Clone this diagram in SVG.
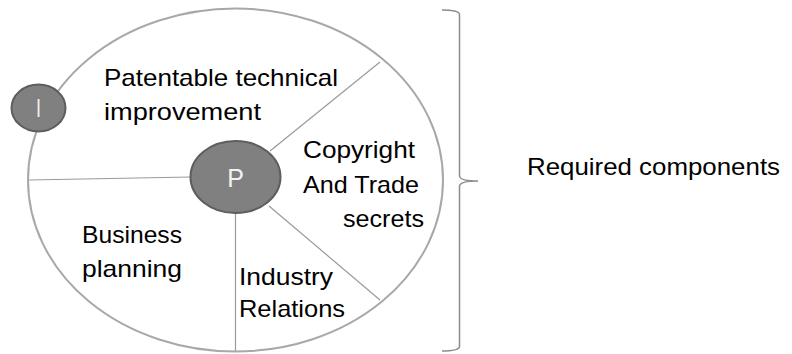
<svg xmlns="http://www.w3.org/2000/svg" width="792" height="354" viewBox="0 0 792 354">
<style>
.t{font-family:"Liberation Sans",Arial,sans-serif;font-size:24px;fill:#000}
.w{font-family:"Liberation Sans",Arial,sans-serif;font-size:25px;fill:#f2f2f2;text-anchor:middle}
.ln{stroke:#9a9a9a;stroke-width:1.2;fill:none}
.dot{fill:#808080;stroke:#5e5e5e;stroke-width:2}
</style>
<rect width="792" height="354" fill="#fff"/>
<g id="main">
<ellipse cx="235.5" cy="180" rx="207.5" ry="171.5" fill="#fff" stroke="#a8a8a8" stroke-width="2"/>
</g>
<g id="connectors">
<line class="ln" x1="270" y1="151" x2="380" y2="62"/>
<line class="ln" x1="29" y1="180" x2="191" y2="177"/>
<line class="ln" x1="269" y1="206" x2="380" y2="300"/>
<line class="ln" x1="235.5" y1="213" x2="235.5" y2="351"/>
</g>
<g id="nodeI">
<ellipse class="dot" cx="38.5" cy="108" rx="27" ry="23.5"/>
<text class="w" x="38.5" y="117" textLength="5" lengthAdjust="spacingAndGlyphs">I</text>
</g>
<g id="nodeP">
<ellipse class="dot" cx="235.5" cy="177" rx="45" ry="36"/>
<text class="w" x="235.5" y="187">P</text>
</g>
<g id="patent">
<text class="t" x="104" y="86" textLength="234" lengthAdjust="spacingAndGlyphs">Patentable technical</text>
<text class="t" x="104" y="120" textLength="157" lengthAdjust="spacingAndGlyphs">improvement</text>
</g>
<g id="copyright">
<text class="t" x="303" y="158" textLength="112" lengthAdjust="spacingAndGlyphs">Copyright</text>
<text class="t" x="303" y="193" textLength="116" lengthAdjust="spacingAndGlyphs">And Trade</text>
<text class="t" x="343" y="227" textLength="81" lengthAdjust="spacingAndGlyphs">secrets</text>
</g>
<g id="business">
<text class="t" x="82" y="243" textLength="100" lengthAdjust="spacingAndGlyphs">Business</text>
<text class="t" x="82" y="277" textLength="100" lengthAdjust="spacingAndGlyphs">planning</text>
</g>
<g id="industry">
<text class="t" x="239" y="285" textLength="94" lengthAdjust="spacingAndGlyphs">Industry</text>
<text class="t" x="239" y="317" textLength="106" lengthAdjust="spacingAndGlyphs">Relations</text>
</g>
<g id="bracket">
<path d="M442 10 Q458 10 459.5 14 L459.5 176 Q460 181 478 181 Q460 181 459.5 186 L459.5 347 Q458 351 442 351" fill="none" stroke="#8c8c8c" stroke-width="1.5"/>
</g>
<g id="required">
<text class="t" x="527" y="175" textLength="253" lengthAdjust="spacingAndGlyphs">Required components</text>
</g>
</svg>
